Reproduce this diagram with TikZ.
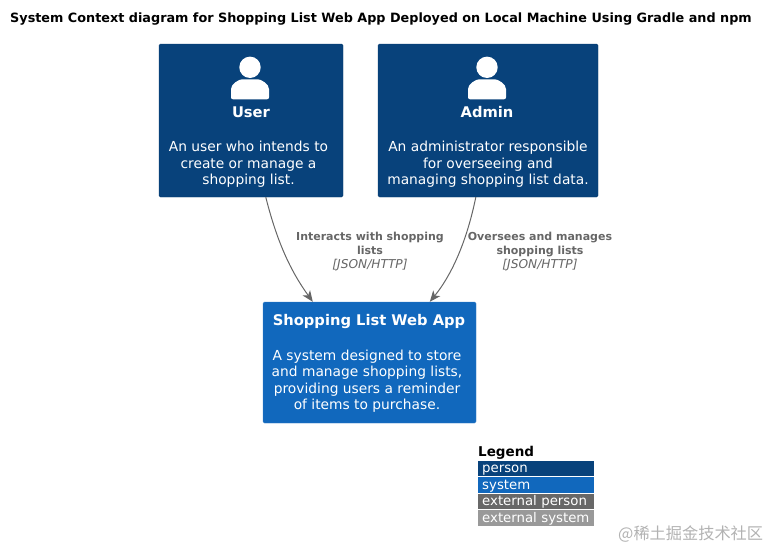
\documentclass[tikz,border=0pt]{standalone}
\usepackage{fontspec}
\setmainfont{DejaVu Sans}
\newfontfamily\cjk{Noto Sans CJK SC}
\usetikzlibrary{arrows.meta}
\definecolor{personblue}{HTML}{08427B}
\definecolor{systemblue}{HTML}{1168BD}
\definecolor{extperson}{HTML}{686868}
\definecolor{extsystem}{HTML}{999999}
\definecolor{linegrey}{HTML}{666666}
\tikzset{
  personbox/.style={draw=personblue!90!black, fill=personblue, rounded corners=1.5pt, minimum height=153pt, inner sep=0pt},
  systembox/.style={draw=systemblue!85!white, fill=systemblue, rounded corners=1.5pt, minimum width=213pt, minimum height=121pt, inner sep=0pt},
  title/.style={text=white, font=\fontsize{14.7}{18}\selectfont\bfseries, inner sep=0pt},
  descr/.style={text=white, align=center, font=\fontsize{13.8}{16.5}\selectfont, inner sep=0pt},
  rel/.style={draw=linegrey, line width=1pt, -{Stealth[length=11pt,width=9pt,inset=3pt]}},
  rellabel/.style={text=linegrey, align=center, font=\fontsize{11}{14}\selectfont, inner sep=0pt},
  legendrow/.style={anchor=north west, minimum width=116pt, text width=112pt, align=left, inner xsep=2pt, inner ysep=0pt, text height=11pt, text depth=3pt, text=white, font=\fontsize{13.3}{14}\selectfont},
}
\newcommand{\persicon}[2]{% head and shoulders
  \fill[white] (#1,#2-32.7) circle (10.7);
  \fill[white,rounded corners=2pt] (#1-19,#2-0.7) -- (#1+19,#2-0.7) -- (#1+19,#2-9) .. controls (#1+19,#2-16) and (#1+11,#2-20.7) .. (#1+6,#2-20.7) -- (#1-6,#2-20.7) .. controls (#1-11,#2-20.7) and (#1-19,#2-16) .. (#1-19,#2-9) -- cycle;
}
\begin{document}
\begin{tikzpicture}[x=1pt, y=-1pt]
  \useasboundingbox (0,0) rectangle (768,549);
  \node[anchor=west, inner sep=0pt, font=\fontsize{12.8}{14}\selectfont\bfseries] (heading) at (10,19) {System Context diagram for Shopping List Web App Deployed on Local Machine Using Gradle and npm};

  \node[personbox, minimum width=184pt] (user) at (251,120.5) {};
  \node[personbox, minimum width=220pt] (admin) at (488,120.5) {};
  \node[systembox] (app) at (369.5,362.5) {};

  \persicon{250}{100}
  \persicon{487}{100}

  \node[title] (usertitle) at (251,112.5) {User};
  \node[descr] (userdescr) at (248.5,164.3) {An user who intends to\\create or manage a\\shopping list.};
  \node[title] (admintitle) at (487,112.5) {Admin};
  \node[descr] (admindescr) at (488,164.3) {An administrator responsible\\for overseeing and\\managing shopping list data.};
  \node[title] (apptitle) at (369,321.5) {Shopping List Web App};
  \node[descr] (appdescr) at (367,381.3) {A system designed to store\\and manage shopping lists,\\providing users a reminder\\of items to purchase.};

  \draw[rel] ([xshift=107pt]user.south west) .. controls (279,250) and (295,277) .. ([xshift=50pt]app.north west);
  \draw[rel] ([xshift=98pt]admin.south west) .. controls (466,245) and (450,277) .. ([xshift=167pt]app.north west);

  \node[rellabel] (userrel) at (370,251.5) {\textbf{Interacts with shopping}\\\textbf{lists}\\{\fontsize{12.2}{14}\selectfont\textit{[JSON/HTTP]}}};
  \node[rellabel] (adminrel) at (540,251.5) {\textbf{Oversees and manages}\\\textbf{shopping lists}\\{\fontsize{12.2}{14}\selectfont\textit{[JSON/HTTP]}}};

  % legend
  \node[anchor=west, inner sep=0pt, font=\fontsize{13.5}{16}\selectfont\bfseries] (legend) at (478,452.5) {Legend};
  \node[legendrow, fill=personblue, minimum height=15pt] (lperson) at (478,461) {\hspace{2pt}person};
  \node[legendrow, fill=systemblue, minimum height=16pt] (lsystem) at (478,477) {\hspace{2pt}system};
  \node[legendrow, fill=extperson, minimum height=15pt] (lextperson) at (478,494) {\hspace{2pt}external person};
  \node[legendrow, fill=extsystem, minimum height=16pt] (lextsystem) at (478,510) {\hspace{2pt}external system};

  \node[anchor=west, inner sep=0pt, text=black!30, font=\fontsize{16.2}{18}\selectfont\cjk] (mark) at (618,534) {@稀土掘金技术社区};
\end{tikzpicture}
\end{document}
